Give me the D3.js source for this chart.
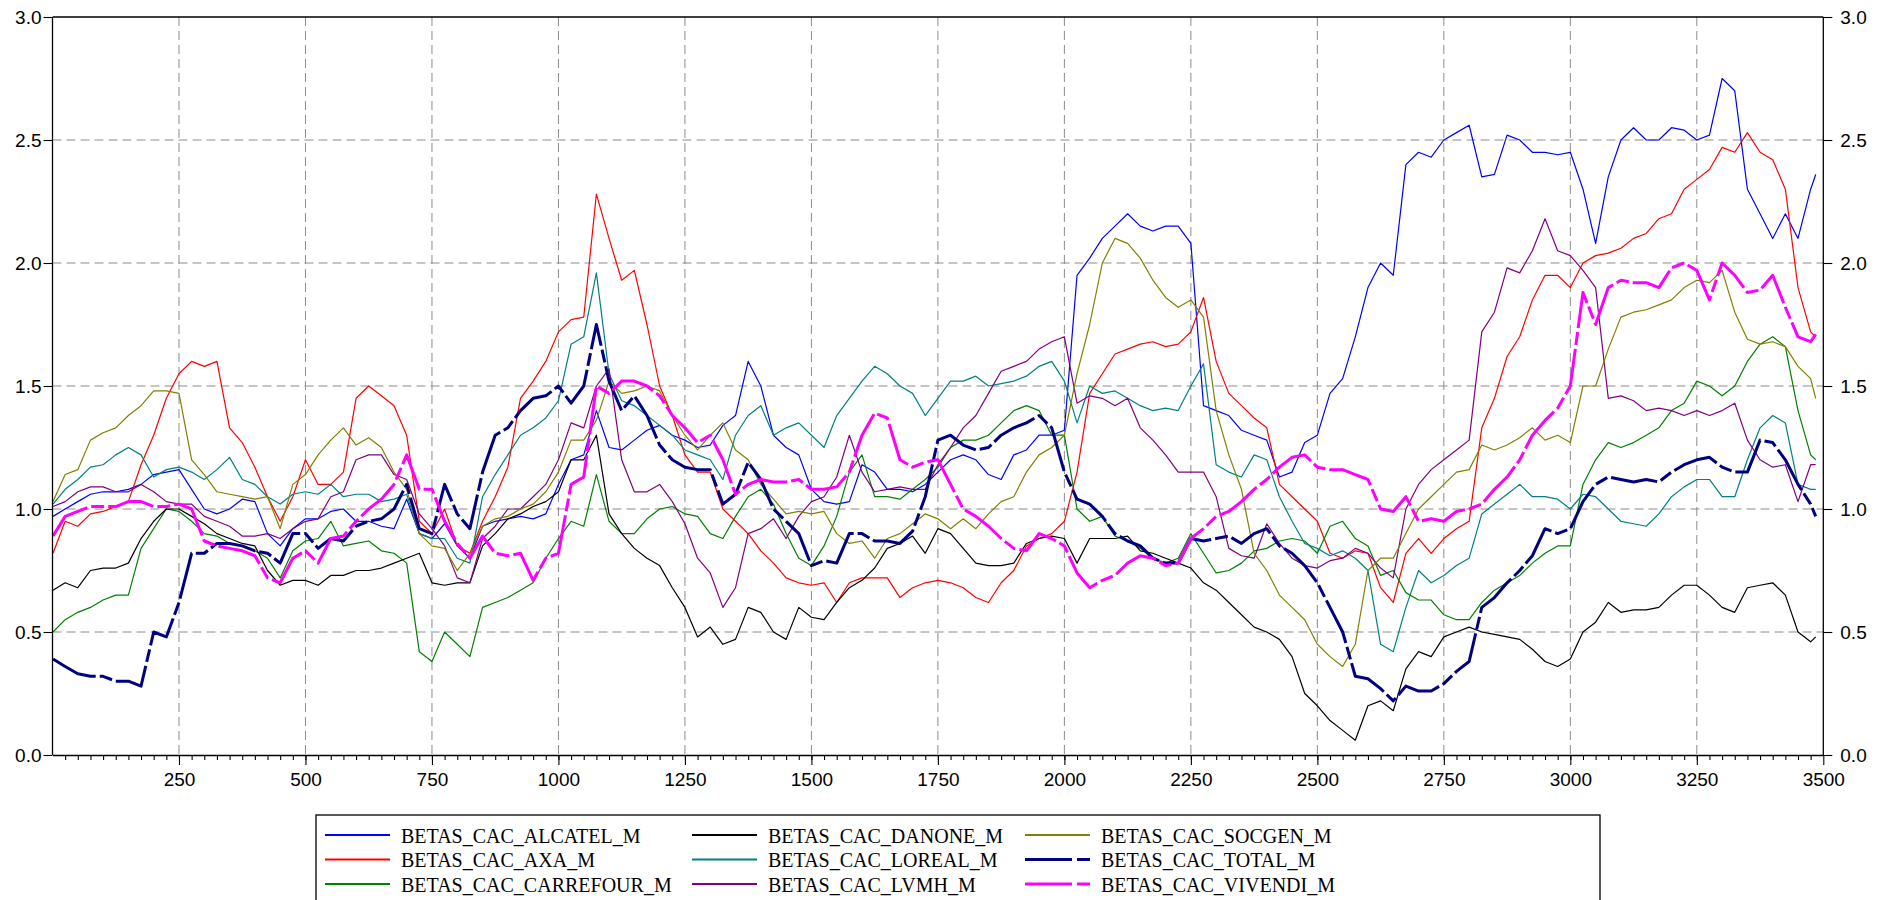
<!DOCTYPE html>
<html>
<head>
<meta charset="utf-8">
<script src="https://cdn.jsdelivr.net/npm/d3@7"></script>
<style>
  body { margin: 0; background: #ffffff; }
  svg { display: block; }
</style>
</head>
<body>
<svg id="chart" width="1892" height="900"></svg>
<script>
// Observation index (rolling-beta sample positions)
const obs = [
  1,25,50,75,100,125,150,175,200,225,250,275,300,325,350,375,400,425,450,475,
  500,525,550,575,600,625,650,675,700,725,750,775,800,825,850,875,900,925,950,975,
  1000,1025,1050,1075,1100,1125,1150,1175,1200,1225,1250,1275,1300,1325,1350,1375,1400,1425,1450,1475,
  1500,1525,1550,1575,1600,1625,1650,1675,1700,1725,1750,1775,1800,1825,1850,1875,1900,1925,1950,1975,
  2000,2025,2050,2075,2100,2125,2150,2175,2200,2225,2250,2275,2300,2325,2350,2375,2400,2425,2450,2475,
  2500,2525,2550,2575,2600,2625,2650,2675,2700,2725,2750,2775,2800,2825,2850,2875,2900,2925,2950,2975,
  3000,3025,3050,3075,3100,3125,3150,3175,3200,3225,3250,3275,3300,3325,3350,3375,3400,3425,3450,3475,
  3485
];

const betasAlcatel = [
  0.97,1.0,1.03,1.06,1.07,1.07,1.08,1.1,1.14,1.15,1.16,1.08,1.0,0.98,1.0,1.04,1.03,0.9,0.85,0.92,
  0.96,0.96,0.99,1.0,0.95,0.95,0.93,0.92,1.04,0.9,0.88,0.94,0.85,0.8,0.93,0.95,0.96,0.97,0.96,0.98,
  1.1,1.2,1.22,1.4,1.25,1.24,1.28,1.32,1.34,1.3,1.28,1.25,1.26,1.34,1.38,1.6,1.5,1.3,1.25,1.22,
  1.08,1.03,1.02,1.03,1.18,1.15,1.08,1.08,1.07,1.1,1.15,1.2,1.22,1.2,1.14,1.12,1.22,1.24,1.3,1.3,
  1.32,1.95,2.02,2.1,2.15,2.2,2.15,2.13,2.15,2.15,2.08,1.42,1.4,1.38,1.32,1.3,1.28,1.13,1.15,1.27,
  1.3,1.47,1.53,1.7,1.9,2.0,1.95,2.4,2.45,2.43,2.5,2.53,2.56,2.35,2.36,2.52,2.5,2.45,2.45,2.44,
  2.45,2.3,2.08,2.35,2.5,2.55,2.5,2.5,2.55,2.54,2.5,2.52,2.75,2.7,2.3,2.2,2.1,2.2,2.1,2.3,
  2.36
];

const betasAxa = [
  0.82,0.95,0.93,0.98,0.99,1.01,1.03,1.18,1.3,1.45,1.55,1.6,1.58,1.6,1.33,1.27,1.17,1.05,0.95,1.05,
  1.2,1.1,1.1,1.15,1.45,1.5,1.46,1.42,1.3,0.95,0.9,1.0,0.85,0.82,0.95,1.05,1.17,1.45,1.52,1.6,
  1.72,1.77,1.78,2.28,2.1,1.93,1.97,1.75,1.5,1.38,1.22,1.15,1.15,1.0,0.95,0.9,0.83,0.78,0.72,0.7,
  0.69,0.7,0.62,0.7,0.72,0.72,0.72,0.64,0.68,0.7,0.71,0.7,0.68,0.64,0.62,0.7,0.75,0.85,0.88,0.9,
  0.95,1.15,1.47,1.55,1.63,1.65,1.67,1.68,1.66,1.67,1.72,1.86,1.6,1.47,1.42,1.37,1.33,1.1,1.05,1.0,
  0.95,0.82,0.8,0.83,0.82,0.68,0.62,0.82,0.88,0.82,0.88,0.92,0.95,1.33,1.45,1.62,1.7,1.85,1.95,1.95,
  1.9,2.0,2.03,2.04,2.06,2.1,2.12,2.18,2.2,2.3,2.34,2.38,2.47,2.45,2.53,2.45,2.42,2.3,1.9,1.72,
  1.7
];

const betasCarrefour = [
  0.5,0.55,0.58,0.6,0.63,0.65,0.65,0.84,0.92,1.0,0.99,0.95,0.9,0.89,0.86,0.85,0.83,0.8,0.72,0.83,
  0.87,0.88,0.95,0.85,0.86,0.87,0.83,0.82,0.78,0.42,0.38,0.5,0.45,0.4,0.6,0.62,0.64,0.67,0.7,0.8,
  0.88,0.95,0.93,1.14,0.95,0.9,0.9,0.96,1.0,1.01,0.98,0.97,0.9,0.88,0.97,1.05,1.08,1.02,0.9,0.8,
  0.77,0.85,0.97,1.15,1.22,1.05,1.05,1.04,1.08,1.12,1.17,1.25,1.28,1.28,1.3,1.35,1.4,1.42,1.4,1.3,
  1.3,1.0,0.95,0.97,0.89,0.87,0.84,0.8,0.78,0.8,0.9,0.82,0.74,0.75,0.78,0.83,0.84,0.87,0.88,0.87,
  0.82,0.93,0.95,0.88,0.85,0.73,0.75,0.66,0.63,0.63,0.57,0.55,0.55,0.62,0.67,0.7,0.73,0.78,0.82,0.85,
  0.85,1.1,1.2,1.27,1.25,1.27,1.3,1.33,1.4,1.43,1.52,1.5,1.46,1.5,1.6,1.67,1.7,1.66,1.4,1.22,
  1.2
];

const betasDanone = [
  0.67,0.7,0.68,0.75,0.76,0.76,0.78,0.88,0.95,1.0,1.0,0.97,0.94,0.9,0.88,0.86,0.85,0.75,0.69,0.71,
  0.71,0.69,0.73,0.73,0.75,0.75,0.76,0.78,0.8,0.82,0.7,0.69,0.7,0.7,0.85,0.9,0.96,0.98,1.01,1.03,
  1.07,1.2,1.2,1.3,0.98,0.9,0.84,0.8,0.77,0.68,0.6,0.48,0.52,0.45,0.47,0.6,0.58,0.5,0.47,0.6,
  0.56,0.55,0.62,0.68,0.71,0.76,0.84,0.86,0.89,0.82,0.92,0.9,0.84,0.78,0.77,0.77,0.78,0.86,0.88,0.89,
  0.88,0.78,0.88,0.88,0.88,0.89,0.83,0.82,0.8,0.78,0.76,0.7,0.67,0.62,0.57,0.52,0.5,0.47,0.4,0.25,
  0.2,0.14,0.1,0.06,0.2,0.22,0.18,0.35,0.42,0.4,0.48,0.5,0.52,0.5,0.49,0.48,0.47,0.43,0.38,0.36,
  0.39,0.5,0.54,0.62,0.58,0.59,0.59,0.6,0.65,0.69,0.69,0.65,0.6,0.58,0.68,0.69,0.7,0.65,0.5,0.46,
  0.48
];

const betasLoreal = [
  1.02,1.08,1.12,1.17,1.18,1.22,1.25,1.22,1.13,1.16,1.17,1.15,1.12,1.16,1.21,1.12,1.1,1.05,1.02,1.06,
  1.07,1.06,1.1,1.05,1.06,1.06,1.03,1.04,1.06,0.9,0.88,0.88,0.8,0.78,1.05,1.14,1.22,1.3,1.33,1.37,
  1.44,1.67,1.7,1.96,1.55,1.44,1.42,1.38,1.34,1.3,1.24,1.22,1.2,1.12,1.3,1.38,1.42,1.3,1.33,1.35,
  1.3,1.25,1.38,1.45,1.52,1.58,1.55,1.5,1.47,1.38,1.45,1.52,1.52,1.54,1.5,1.51,1.52,1.54,1.58,1.6,
  1.52,1.35,1.5,1.47,1.48,1.45,1.42,1.4,1.41,1.4,1.5,1.59,1.18,1.15,1.13,1.22,1.2,1.05,0.95,0.86,
  0.84,0.81,0.83,0.8,0.75,0.45,0.42,0.6,0.75,0.7,0.73,0.77,0.8,0.98,1.02,1.06,1.1,1.05,1.05,1.04,
  1.0,1.06,1.05,1.0,0.95,0.94,0.93,0.98,1.05,1.09,1.12,1.12,1.05,1.05,1.2,1.33,1.38,1.35,1.1,1.08,
  1.08
];

const betasLvmh = [
  1.01,1.03,1.07,1.09,1.09,1.07,1.07,1.1,1.07,1.03,1.02,1.02,0.97,0.95,0.93,0.89,0.89,0.9,0.88,0.92,
  0.95,0.96,1.05,1.07,1.2,1.22,1.22,1.14,1.12,0.98,0.92,0.85,0.72,0.7,0.88,0.93,1.0,1.0,1.05,1.1,
  1.2,1.35,1.33,1.5,1.57,1.2,1.07,1.07,1.1,1.03,0.94,0.8,0.74,0.6,0.68,0.9,0.92,0.96,0.88,0.97,
  1.03,1.05,1.13,1.3,1.15,1.07,1.08,1.09,1.08,1.08,1.18,1.25,1.33,1.38,1.47,1.56,1.58,1.6,1.65,1.68,
  1.7,1.43,1.46,1.45,1.42,1.45,1.33,1.28,1.22,1.15,1.15,1.15,1.05,0.84,0.81,0.8,0.94,0.86,0.8,0.77,
  0.76,0.79,0.8,0.84,0.82,0.76,0.72,1.0,1.1,1.16,1.2,1.24,1.28,1.72,1.8,1.98,1.96,2.05,2.18,2.05,
  2.03,1.97,1.9,1.45,1.46,1.44,1.4,1.41,1.4,1.38,1.4,1.38,1.4,1.43,1.28,1.2,1.17,1.18,1.03,1.18,
  1.18
];

const betasSocgen = [
  1.03,1.14,1.16,1.28,1.31,1.33,1.38,1.42,1.48,1.48,1.47,1.2,1.14,1.07,1.06,1.05,1.04,1.05,0.92,1.1,
  1.14,1.22,1.28,1.33,1.26,1.29,1.25,1.15,1.08,0.9,0.85,0.84,0.75,0.82,0.93,0.96,0.97,1.0,1.02,1.07,
  1.15,1.28,1.28,1.36,1.52,1.47,1.48,1.5,1.48,1.38,1.3,1.24,1.3,1.35,1.24,1.2,1.1,1.04,0.98,0.99,
  0.98,0.99,0.9,0.86,0.87,0.8,0.88,0.9,0.94,0.98,0.96,0.92,0.96,0.92,0.98,1.03,1.05,1.15,1.22,1.25,
  1.3,1.55,1.75,2.0,2.1,2.08,2.02,1.93,1.86,1.82,1.85,1.78,1.4,1.22,1.08,0.82,0.75,0.65,0.6,0.55,
  0.45,0.4,0.36,0.45,0.75,0.8,0.8,0.9,1.0,1.05,1.1,1.15,1.16,1.26,1.24,1.26,1.29,1.33,1.28,1.3,
  1.27,1.5,1.5,1.65,1.78,1.8,1.81,1.83,1.85,1.9,1.93,1.92,1.97,1.8,1.69,1.67,1.68,1.66,1.58,1.53,
  1.45
];

const betasTotal = [
  0.39,0.36,0.33,0.32,0.32,0.3,0.3,0.28,0.5,0.48,0.62,0.82,0.82,0.86,0.86,0.85,0.83,0.82,0.78,0.9,
  0.9,0.84,0.88,0.87,0.93,0.95,0.96,1.0,1.1,0.92,0.9,1.1,0.98,0.92,1.15,1.3,1.33,1.4,1.45,1.46,
  1.5,1.43,1.5,1.75,1.52,1.4,1.46,1.38,1.26,1.2,1.17,1.16,1.16,1.02,1.06,1.19,1.12,1.0,0.95,0.9,
  0.77,0.79,0.78,0.9,0.9,0.87,0.87,0.86,0.91,1.05,1.28,1.3,1.26,1.24,1.25,1.3,1.33,1.35,1.38,1.33,
  1.15,1.04,1.02,0.97,0.9,0.87,0.85,0.8,0.78,0.78,0.88,0.87,0.88,0.89,0.86,0.9,0.92,0.85,0.82,0.77,
  0.7,0.6,0.5,0.32,0.31,0.27,0.22,0.28,0.26,0.26,0.29,0.34,0.38,0.6,0.64,0.7,0.75,0.81,0.92,0.9,
  0.92,1.03,1.1,1.13,1.12,1.11,1.12,1.11,1.15,1.18,1.2,1.21,1.17,1.15,1.15,1.28,1.27,1.2,1.1,1.02,
  0.97
];

const betasVivendi = [
  0.89,0.97,0.99,1.01,1.01,1.01,1.03,1.03,1.01,1.01,1.02,1.0,0.87,0.85,0.84,0.83,0.81,0.72,0.7,0.8,
  0.83,0.78,0.88,0.89,0.95,1.0,1.04,1.1,1.22,1.08,1.08,0.95,0.86,0.8,0.89,0.82,0.81,0.82,0.71,0.8,
  0.82,1.1,1.13,1.5,1.47,1.52,1.52,1.5,1.46,1.38,1.33,1.27,1.3,1.2,1.06,1.1,1.12,1.11,1.11,1.12,
  1.08,1.08,1.09,1.15,1.3,1.39,1.37,1.2,1.17,1.19,1.2,1.1,1.0,0.97,0.93,0.88,0.84,0.83,0.9,0.88,
  0.85,0.74,0.68,0.71,0.73,0.78,0.81,0.8,0.77,0.78,0.88,0.92,0.97,0.99,1.03,1.08,1.12,1.17,1.21,1.22,
  1.17,1.16,1.16,1.14,1.12,1.0,0.99,1.05,0.95,0.96,0.95,0.99,1.0,1.02,1.08,1.13,1.2,1.3,1.36,1.41,
  1.5,1.88,1.75,1.9,1.93,1.92,1.92,1.9,1.98,2.0,1.97,1.85,2.0,1.95,1.88,1.89,1.95,1.82,1.7,1.68,
  1.71
];

const seriesNames = [
  "BETAS_CAC_ALCATEL_M", "BETAS_CAC_AXA_M", "BETAS_CAC_CARREFOUR_M",
  "BETAS_CAC_DANONE_M", "BETAS_CAC_LOREAL_M", "BETAS_CAC_LVMH_M",
  "BETAS_CAC_SOCGEN_M", "BETAS_CAC_TOTAL_M", "BETAS_CAC_VIVENDI_M"
];
const seriesValues = [
  betasAlcatel, betasAxa, betasCarrefour, betasDanone, betasLoreal,
  betasLvmh, betasSocgen, betasTotal, betasVivendi
];

const yTickValues = [0.0, 0.5, 1.0, 1.5, 2.0, 2.5, 3.0];
const xTickLabels = [250, 500, 750, 1000, 1250, 1500, 1750, 2000, 2250, 2500, 2750, 3000, 3250, 3500];

// ---- styling ----
const lineStyles = [
  { color: "#0000ff", width: 1.2, dash: null },
  { color: "#ff0000", width: 1.2, dash: null },
  { color: "#008000", width: 1.2, dash: null },
  { color: "#000000", width: 1.2, dash: null },
  { color: "#008080", width: 1.2, dash: null },
  { color: "#800080", width: 1.2, dash: null },
  { color: "#808000", width: 1.2, dash: null },
  { color: "#000080", width: 3, dash: "47,4,13,4" },
  { color: "#ff00ff", width: 3, dash: "47,4,13,4" }
];

const svg = d3.select("#chart");
const plot = { left: 52.5, right: 1823.3, top: 17, bottom: 755 };

const x = d3.scaleLinear().domain([0, 3500]).range([plot.left, plot.right]);
const y = d3.scaleLinear().domain([0, 3]).range([plot.bottom, plot.top]);

const axisFont = "'Liberation Sans', Arial, Helvetica, sans-serif";

// dashed grid
const grid = svg.append("g").attr("class", "grid");
grid.selectAll("line.hgrid")
  .data(yTickValues.filter(v => v > 0 && v < 3))
  .enter().append("line")
  .attr("x1", plot.left).attr("x2", plot.right)
  .attr("y1", d => y(d)).attr("y2", d => y(d))
  .attr("stroke", "#8c8c8c").attr("stroke-width", 1)
  .attr("stroke-dasharray", "9,5");
grid.selectAll("line.vgrid")
  .data(xTickLabels.filter(v => v < 3500))
  .enter().append("line")
  .attr("x1", d => x(d)).attr("x2", d => x(d))
  .attr("y1", plot.top).attr("y2", plot.bottom)
  .attr("stroke", "#8c8c8c").attr("stroke-width", 1)
  .attr("stroke-dasharray", "9,5");

// series
svg.append("defs").append("clipPath").attr("id", "plotClip")
  .append("rect")
  .attr("x", plot.left).attr("y", plot.top)
  .attr("width", plot.right - plot.left).attr("height", plot.bottom - plot.top);

const line = d3.line()
  .x(d => x(d[0]))
  .y(d => y(d[1]));

const lines = svg.append("g").attr("clip-path", "url(#plotClip)");
seriesValues.forEach((vals, i) => {
  const pts = obs.map((o, j) => [o, vals[j]]);
  const st = lineStyles[i];
  lines.append("path")
    .datum(pts)
    .attr("d", line)
    .attr("fill", "none")
    .attr("stroke", st.color)
    .attr("stroke-width", st.width)
    .attr("stroke-linejoin", "round")
    .attr("stroke-dasharray", st.dash);
});

// frame
const frame = svg.append("g").attr("stroke", "#000").attr("stroke-width", 1.3);
frame.append("line").attr("x1", plot.left).attr("x2", plot.right).attr("y1", plot.top).attr("y2", plot.top);

// axes
const leftAxis = d3.axisLeft(y).tickValues(yTickValues).tickFormat(d3.format(".1f"))
  .tickSize(9).tickPadding(2);
const rightAxis = d3.axisRight(y).tickValues(yTickValues).tickFormat(d3.format(".1f"))
  .tickSize(9).tickPadding(8);
const bottomMinor = d3.axisBottom(x).tickValues(d3.range(25, 3500, 25)).tickFormat("")
  .tickSize(5).tickSizeOuter(0);
const bottomMajor = d3.axisBottom(x).tickValues(xTickLabels).tickFormat(d3.format("d"))
  .tickSize(10).tickPadding(7.5).tickSizeOuter(0);

function styleAxis(g) {
  g.select(".domain").attr("stroke", "#000").attr("stroke-width", 1.3);
  g.selectAll(".tick line").attr("stroke", "#000").attr("stroke-width", 1.1);
  g.selectAll("text").attr("font-family", axisFont).attr("font-size", 19).attr("fill", "#000");
}

svg.append("g").attr("transform", `translate(${plot.left},0)`).call(leftAxis).call(styleAxis)
  .select(".domain").attr("d", `M0,${plot.top}V${plot.bottom}`);
svg.append("g").attr("transform", `translate(${plot.right},0)`).call(rightAxis).call(styleAxis)
  .select(".domain").attr("d", `M0,${plot.top}V${plot.bottom}`);
svg.append("g").attr("transform", `translate(0,${plot.bottom})`).call(bottomMinor).call(styleAxis);
svg.append("g").attr("transform", `translate(0,${plot.bottom})`).call(bottomMajor).call(styleAxis)
  .select(".domain").remove();

// legend
const legend = svg.append("g").attr("class", "legend");
legend.append("rect")
  .attr("x", 316).attr("y", 815).attr("width", 1284).attr("height", 120)
  .attr("fill", "#fff").attr("stroke", "#000").attr("stroke-width", 1.3);

const colX = [325, 692, 1025];
const rowY = [835, 859.5, 884];
seriesNames.forEach((name, i) => {
  const col = Math.floor(i / 3), row = i % 3;
  const st = lineStyles[i];
  const lx = colX[col], ly = rowY[row];
  legend.append("line")
    .attr("x1", lx).attr("x2", lx + 65)
    .attr("y1", ly).attr("y2", ly)
    .attr("stroke", st.color)
    .attr("stroke-width", st.dash ? 3 : 2)
    .attr("stroke-dasharray", st.dash ? "47,5,13" : null);
  legend.append("text")
    .attr("x", lx + 76).attr("y", ly + 7.5)
    .attr("font-family", "'Liberation Serif', 'Times New Roman', serif")
    .attr("font-size", 20)
    .attr("fill", "#000")
    .text(name);
});
</script>
</body>
</html>
